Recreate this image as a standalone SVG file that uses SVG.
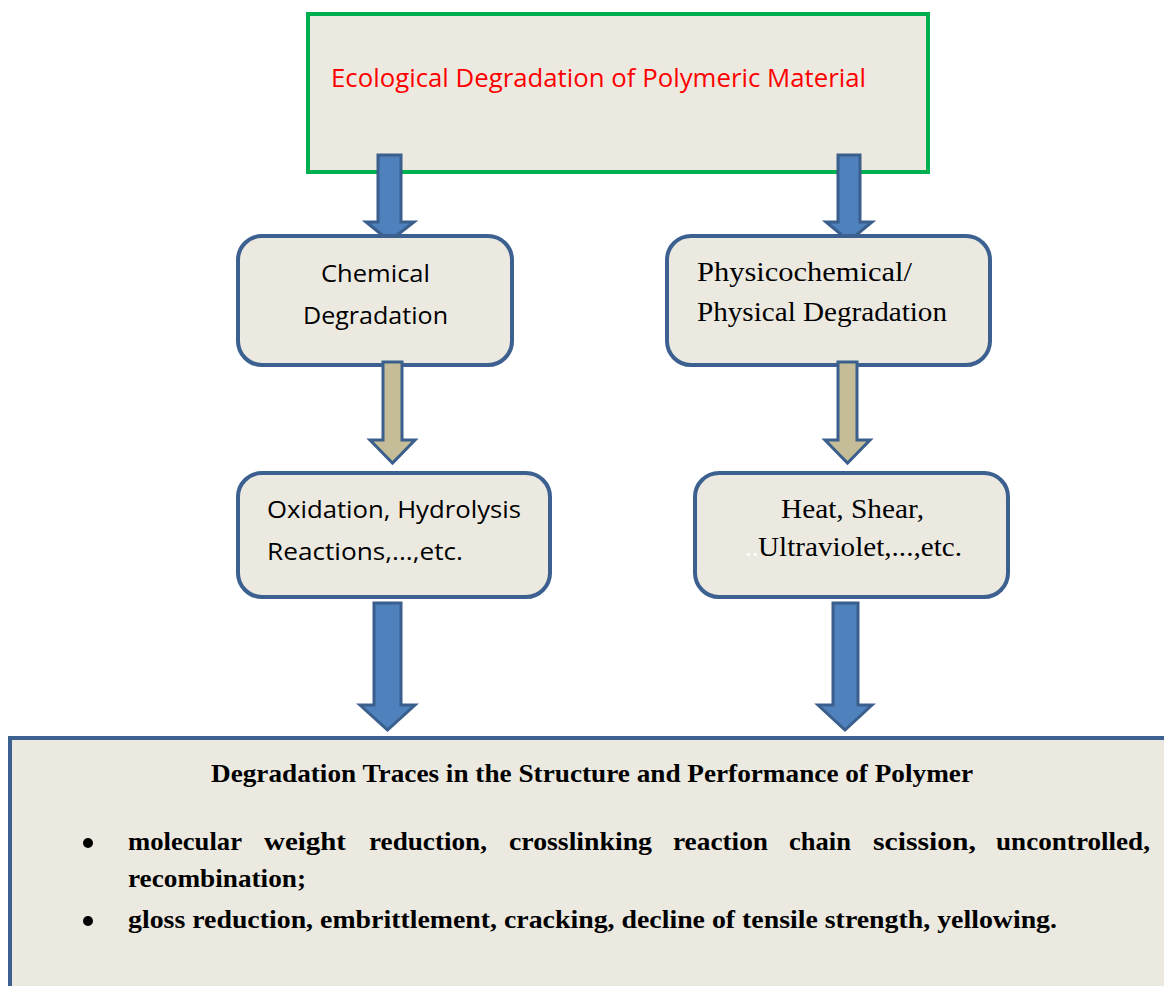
<svg xmlns="http://www.w3.org/2000/svg" width="1164" height="986" viewBox="0 0 1164 986">
<defs>
<style>
.box{fill:#ECEAE0;stroke:#3C6090;stroke-width:4}
.top{fill:#ECEAE0;stroke:#00B050;stroke-width:4}
.ab{fill:#4F81BD;stroke:#3A5F8C;stroke-width:3;stroke-linejoin:miter}
.ak{fill:#C4BD97;stroke:#3A5F8C;stroke-width:3;stroke-linejoin:miter}
.sans{font-family:"Open Sans","Noto Sans","Liberation Sans",sans-serif;font-size:24px;fill:#000}
.serif{font-family:"Liberation Serif","Times New Roman",serif;font-size:27px;fill:#000}
.bold{font-family:"Liberation Serif","Times New Roman",serif;font-size:26px;font-weight:bold;fill:#000}
</style>
</defs>
<rect width="1164" height="986" fill="#fff"/>
<g id="n-top">
<rect class="top" x="308" y="14" width="620" height="158"/>
<text class="sans" x="331" y="87" style="fill:#FF0000;font-size:25px" textLength="535" lengthAdjust="spacingAndGlyphs">Ecological Degradation of Polymeric Material</text>
</g>
<g id="connectors-top">
<path class="ab" d="M378,155 L401,155 L401,222 L414,222 L389.5,241 L366,222 L378,222 Z"/>
<path class="ab" d="M838,155 L860,155 L860,222 L872,222 L849,241 L826,222 L838,222 Z"/>
</g>
<g id="n-chem">
<rect class="box" x="238" y="236" width="274" height="129" rx="24"/>
<text class="sans" x="321" y="282" textLength="109" lengthAdjust="spacingAndGlyphs">Chemical</text>
<text class="sans" x="303" y="324" textLength="145" lengthAdjust="spacingAndGlyphs">Degradation</text>
</g>
<g id="n-phys">
<rect class="box" x="667" y="236" width="323" height="129" rx="24"/>
<text class="serif" x="697" y="281" textLength="215" lengthAdjust="spacingAndGlyphs">Physicochemical/</text>
<text class="serif" x="697" y="321" textLength="250" lengthAdjust="spacingAndGlyphs">Physical Degradation</text>
</g>
<g id="connectors-mid">
<path class="ak" d="M383,362 L402,362 L402,440 L415,440 L392.5,463 L370,440 L383,440 Z"/>
<path class="ak" d="M838,362 L857,362 L857,440 L870,440 L847.5,463 L825,440 L838,440 Z"/>
</g>
<g id="n-oxid">
<rect class="box" x="238" y="473" width="312" height="124" rx="24"/>
<text class="sans" x="267" y="518" textLength="254" lengthAdjust="spacingAndGlyphs">Oxidation,  Hydrolysis</text>
<text class="sans" x="267" y="560" textLength="196" lengthAdjust="spacingAndGlyphs">Reactions,...,etc.</text>
</g>
<g id="n-heat">
<rect class="box" x="695" y="473" width="313" height="124" rx="24"/>
<text class="serif" x="781" y="518" textLength="143" lengthAdjust="spacingAndGlyphs">Heat, Shear,</text>
<text class="serif" x="745" y="556" style="fill:#FFFFFF">..</text>
<text class="serif" x="758" y="556" textLength="204" lengthAdjust="spacingAndGlyphs">Ultraviolet,...,etc.</text>
</g>
<g id="connectors-bottom">
<path class="ab" d="M374,603 L401,603 L401,705 L415,705 L387.5,730 L360,705 L374,705 Z"/>
<path class="ab" d="M833,603 L858,603 L858,705 L872,705 L845,730 L818,705 L833,705 Z"/>
</g>
<g id="n-traces">
<rect class="box" x="10" y="738" width="1160" height="260"/>
<text class="bold" x="211" y="782" textLength="762" lengthAdjust="spacingAndGlyphs">Degradation Traces in the Structure and Performance of Polymer</text>
<circle cx="88" cy="843" r="5" fill="#000"/>
<circle cx="88" cy="921" r="5" fill="#000"/>
<text class="bold" y="850"><tspan x="128" textLength="114" lengthAdjust="spacingAndGlyphs">molecular</tspan><tspan x="264" textLength="82" lengthAdjust="spacingAndGlyphs">weight</tspan><tspan x="369" textLength="118" lengthAdjust="spacingAndGlyphs">reduction,</tspan><tspan x="509" textLength="143" lengthAdjust="spacingAndGlyphs">crosslinking</tspan><tspan x="673" textLength="95" lengthAdjust="spacingAndGlyphs">reaction</tspan><tspan x="789" textLength="62" lengthAdjust="spacingAndGlyphs">chain</tspan><tspan x="873" textLength="103" lengthAdjust="spacingAndGlyphs">scission,</tspan><tspan x="996" textLength="154" lengthAdjust="spacingAndGlyphs">uncontrolled,</tspan></text>
<text class="bold" x="128" y="887" textLength="178" lengthAdjust="spacingAndGlyphs">recombination;</text>
<text class="bold" x="128" y="928" textLength="929" lengthAdjust="spacingAndGlyphs">gloss reduction, embrittlement, cracking, decline of tensile strength, yellowing.</text>
</g>
</svg>
